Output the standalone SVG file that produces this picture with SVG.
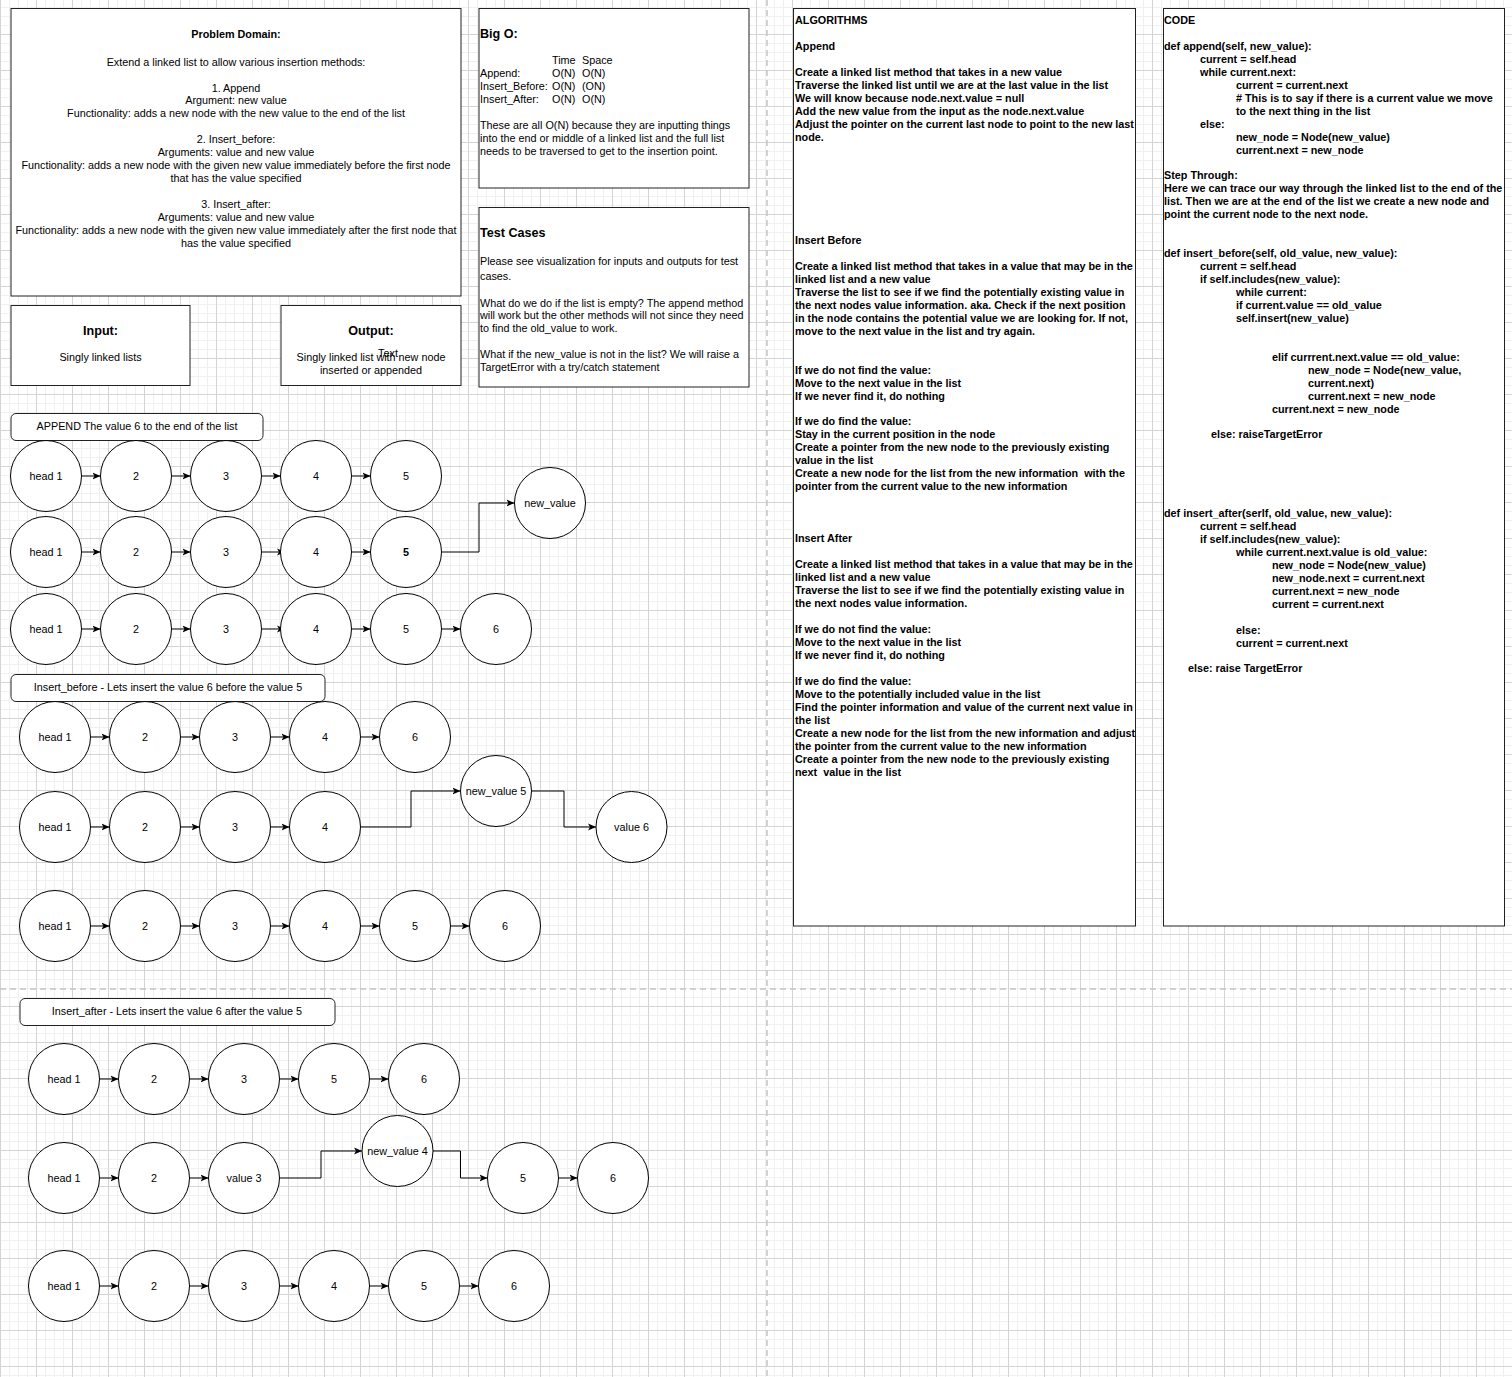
<svg xmlns="http://www.w3.org/2000/svg" width="1512" height="1377" viewBox="0 0 1512 1377">
<defs>
<pattern id="grid" patternUnits="userSpaceOnUse" x="0" y="-2" width="36" height="36">
<path d="M9.5,0V36M18.5,0V36M27.5,0V36M0,9.5H36M0,18.5H36M0,27.5H36" stroke="#f0f0f0" stroke-width="1" fill="none"/>
<path d="M0.5,0V36M0,0.5H36" stroke="#d4d4d4" stroke-width="1" fill="none"/>
</pattern>
<marker id="arr" markerUnits="userSpaceOnUse" markerWidth="8" markerHeight="8" viewBox="0 0 8 8" refX="8" refY="4" orient="auto">
<path d="M0,0.6 L8,4 L0,7.4 L2,4 Z" fill="#000"/>
</marker>
<style>
text{font-family:"Liberation Sans",Arial,Helvetica,sans-serif;font-size:10.8px;fill:#000;white-space:pre}
.b{font-weight:bold}
.h{font-weight:bold;font-size:12.6px}
.c{text-anchor:middle}
.box{fill:#fff;stroke:#222;stroke-width:1}
.lbl{fill:#fff;stroke:#222;stroke-width:1}
.node circle{fill:#fff;stroke:#000;stroke-width:1}
.edge{fill:none;stroke:#000;stroke-width:1;marker-end:url(#arr)}
.pb{stroke:#c4c4c4;stroke-width:1.5;stroke-dasharray:6 4;fill:none}
</style>
</defs>
<rect width="1512" height="1377" fill="#fff"/>
<rect width="1512" height="1377" fill="url(#grid)"/>
<path class="pb" d="M767,0V1377M0,989H1512"/>

<!-- Problem Domain -->
<g id="problem-domain">
<rect class="box" x="11" y="8.5" width="450" height="287.5"/>
<text class="c b" x="236" y="38">Problem Domain:</text>
<text class="c" x="236" y="66">Extend a linked list to allow various insertion methods:</text>
<text class="c" x="236" y="92">1. Append</text>
<text class="c" x="236" y="104">Argument: new value</text>
<text class="c" x="236" y="117">Functionality: adds a new node with the new value to the end of the list</text>
<text class="c" x="236" y="143">2. Insert_before:</text>
<text class="c" x="236" y="156">Arguments: value and new value</text>
<text class="c" x="236" y="169">Functionality: adds a new node with the given new value immediately before the first node</text>
<text class="c" x="236" y="182">that has the value specified</text>
<text class="c" x="236" y="208">3. Insert_after:</text>
<text class="c" x="236" y="221">Arguments: value and new value</text>
<text class="c" x="236" y="234">Functionality: adds a new node with the given new value immediately after the first node that</text>
<text class="c" x="236" y="247">has the value specified</text>
</g>

<!-- Big O -->
<g id="big-o">
<rect class="box" x="479" y="8.5" width="270" height="179.5"/>
<text class="h" x="480" y="38">Big O:</text>
<text x="552" y="64">Time</text><text x="582" y="64">Space</text>
<text x="480" y="77">Append:</text><text x="552" y="77">O(N)</text><text x="582" y="77">O(N)</text>
<text x="480" y="90">Insert_Before:</text><text x="552" y="90">O(N)</text><text x="582" y="90">(ON)</text>
<text x="480" y="103">Insert_After:</text><text x="552" y="103">O(N)</text><text x="582" y="103">O(N)</text>
<text x="480" y="129">These are all O(N) because they are inputting things</text>
<text x="480" y="142">into the end or middle of a linked list and the full list</text>
<text x="480" y="155">needs to be traversed to get to the insertion point.</text>
</g>

<!-- Test Cases -->
<g id="test-cases">
<rect class="box" x="479" y="207.5" width="270" height="179.5"/>
<text class="h" x="480" y="237">Test Cases</text>
<text x="480" y="265">Please see visualization for inputs and outputs for test</text>
<text x="480" y="280">cases.</text>
<text x="480" y="307">What do we do if the list is empty? The append method</text>
<text x="480" y="319">will work but the other methods will not since they need</text>
<text x="480" y="332">to find the old_value to work.</text>
<text x="480" y="358">What if the new_value is not in the list? We will raise a</text>
<text x="480" y="371">TargetError with a try/catch statement</text>
</g>

<!-- Input / Output -->
<g id="input">
<rect class="box" x="11" y="305.5" width="179" height="80"/>
<text class="h c" x="100.5" y="335">Input:</text>
<text class="c" x="100.5" y="361">Singly linked lists</text>
</g>
<g id="output">
<rect class="box" x="281" y="305.5" width="180" height="80"/>
<text class="h c" x="371" y="335">Output:</text>
<text class="c" x="371" y="361">Singly linked list with new node</text>
<text class="c" x="371" y="374">inserted or appended</text>
<text class="c" x="388" y="357">Text</text>
</g>

<!-- Algorithms -->
<g id="algorithms">
<rect class="box" x="793.5" y="8.5" width="342" height="917.5"/>
<g class="b">
<text x="795" y="24">ALGORITHMS</text>
<text x="795" y="50">Append</text>
<text x="795" y="76">Create a linked list method that takes in a new value</text>
<text x="795" y="89">Traverse the linked list until we are at the last value in the list</text>
<text x="795" y="102">We will know because node.next.value = null</text>
<text x="795" y="115">Add the new value from the input as the node.next.value</text>
<text x="795" y="128">Adjust the pointer on the current last node to point to the new last</text>
<text x="795" y="141">node.</text>
<text x="795" y="244">Insert Before</text>
<text x="795" y="270">Create a linked list method that takes in a value that may be in the</text>
<text x="795" y="283">linked list and a new value</text>
<text x="795" y="296">Traverse the list to see if we find the potentially existing value in</text>
<text x="795" y="309">the next nodes value information. aka. Check if the next position</text>
<text x="795" y="322">in the node contains the potential value we are looking for. If not,</text>
<text x="795" y="335">move to the next value in the list and try again.</text>
<text x="795" y="374">If we do not find the value:</text>
<text x="795" y="387">Move to the next value in the list</text>
<text x="795" y="400">If we never find it, do nothing</text>
<text x="795" y="425">If we do find the value:</text>
<text x="795" y="438">Stay in the current position in the node</text>
<text x="795" y="451">Create a pointer from the new node to the previously existing</text>
<text x="795" y="464">value in the list</text>
<text x="795" y="477">Create a new node for the list from the new information  with the</text>
<text x="795" y="490">pointer from the current value to the new information</text>
<text x="795" y="542">Insert After</text>
<text x="795" y="568">Create a linked list method that takes in a value that may be in the</text>
<text x="795" y="581">linked list and a new value</text>
<text x="795" y="594">Traverse the list to see if we find the potentially existing value in</text>
<text x="795" y="607">the next nodes value information.</text>
<text x="795" y="633">If we do not find the value:</text>
<text x="795" y="646">Move to the next value in the list</text>
<text x="795" y="659">If we never find it, do nothing</text>
<text x="795" y="685">If we do find the value:</text>
<text x="795" y="698">Move to the potentially included value in the list</text>
<text x="795" y="711">Find the pointer information and value of the current next value in</text>
<text x="795" y="724">the list</text>
<text x="795" y="737">Create a new node for the list from the new information and adjust</text>
<text x="795" y="750">the pointer from the current value to the new information</text>
<text x="795" y="763">Create a pointer from the new node to the previously existing</text>
<text x="795" y="776">next  value in the list</text>
</g>
</g>

<!-- Code -->
<g id="code">
<rect class="box" x="1163.5" y="8.5" width="341" height="917.5"/>
<g class="b">
<text x="1164" y="24">CODE</text>
<text x="1164" y="50">def append(self, new_value):</text>
<text x="1200" y="63">current = self.head</text>
<text x="1200" y="76">while current.next:</text>
<text x="1236" y="89">current = current.next</text>
<text x="1236" y="102"># This is to say if there is a current value we move</text>
<text x="1236" y="115">to the next thing in the list</text>
<text x="1200" y="128">else:</text>
<text x="1236" y="141">new_node = Node(new_value)</text>
<text x="1236" y="154">current.next = new_node</text>
<text x="1164" y="179">Step Through:</text>
<text x="1164" y="192">Here we can trace our way through the linked list to the end of the</text>
<text x="1164" y="205">list. Then we are at the end of the list we create a new node and</text>
<text x="1164" y="218">point the current node to the next node.</text>
<text x="1164" y="257">def insert_before(self, old_value, new_value):</text>
<text x="1200" y="270">current = self.head</text>
<text x="1200" y="283">if self.includes(new_value):</text>
<text x="1236" y="296">while current:</text>
<text x="1236" y="309">if current.value == old_value</text>
<text x="1236" y="322">self.insert(new_value)</text>
<text x="1272" y="361">elif currrent.next.value == old_value:</text>
<text x="1308" y="374">new_node = Node(new_value,</text>
<text x="1308" y="387">current.next)</text>
<text x="1308" y="400">current.next = new_node</text>
<text x="1272" y="413">current.next = new_node</text>
<text x="1211" y="438">else: raiseTargetError</text>
<text x="1164" y="517">def insert_after(serlf, old_value, new_value):</text>
<text x="1200" y="530">current = self.head</text>
<text x="1200" y="543">if self.includes(new_value):</text>
<text x="1236" y="556">while current.next.value is old_value:</text>
<text x="1272" y="569">new_node = Node(new_value)</text>
<text x="1272" y="582">new_node.next = current.next</text>
<text x="1272" y="595">current.next = new_node</text>
<text x="1272" y="608">current = current.next</text>
<text x="1236" y="634">else:</text>
<text x="1236" y="647">current = current.next</text>
<text x="1188" y="672">else: raise TargetError</text>
</g>
</g>

<!-- Section labels -->
<g id="label-append"><rect class="lbl" x="11" y="413.5" width="252" height="27" rx="5"/><text class="c" x="137" y="430">APPEND The value 6 to the end of the list</text></g>
<g id="label-insert-before"><rect class="lbl" x="11" y="674.5" width="314" height="27" rx="5"/><text class="c" x="168" y="691">Insert_before - Lets insert the value 6 before the value 5</text></g>
<g id="label-insert-after"><rect class="lbl" x="20" y="998.5" width="315" height="27" rx="5"/><text class="c" x="177" y="1015">Insert_after - Lets insert the value 6 after the value 5</text></g>

<!-- Connectors -->
<g id="connectors">
<!-- append row 1 -->
<path class="edge" d="M81.5,476H100.5"/><path class="edge" d="M171.5,476H190.5"/><path class="edge" d="M261.5,476H280.5"/><path class="edge" d="M351.5,476H370.5"/>
<!-- append row 2 -->
<path class="edge" d="M81.5,552H100.5"/><path class="edge" d="M171.5,552H190.5"/><path class="edge" d="M261.5,552H285"/><path class="edge" d="M351.5,552H370.5"/>
<path class="edge" d="M441.5,552H479V503H514.5"/>
<!-- append row 3 -->
<path class="edge" d="M81.5,629H100.5"/><path class="edge" d="M171.5,629H190.5"/><path class="edge" d="M261.5,629H285"/><path class="edge" d="M351.5,629H370.5"/><path class="edge" d="M441.5,629H460.5"/>
<!-- insert before row 1 -->
<path class="edge" d="M90.5,737H109.5"/><path class="edge" d="M180.5,737H199.5"/><path class="edge" d="M270.5,737H289.5"/><path class="edge" d="M360.5,737H379.5"/>
<!-- insert before row 2 -->
<path class="edge" d="M90.5,827H109.5"/><path class="edge" d="M180.5,827H199.5"/><path class="edge" d="M270.5,827H289.5"/>
<path class="edge" d="M360.5,827H411V791H460.5"/>
<path class="edge" d="M531.5,791H564V827H596"/>
<!-- insert before row 3 -->
<path class="edge" d="M90.5,926H109.5"/><path class="edge" d="M180.5,926H199.5"/><path class="edge" d="M270.5,926H289.5"/><path class="edge" d="M360.5,926H379.5"/><path class="edge" d="M450.5,926H469.5"/>
<!-- insert after row 1 -->
<path class="edge" d="M99.5,1079H118.5"/><path class="edge" d="M189.5,1079H208.5"/><path class="edge" d="M279.5,1079H298.5"/><path class="edge" d="M369.5,1079H388.5"/>
<!-- insert after row 2 -->
<path class="edge" d="M99.5,1178H118.5"/><path class="edge" d="M189.5,1178H208.5"/>
<path class="edge" d="M279.5,1178H321V1151H362"/>
<path class="edge" d="M433,1151H460.5V1178H487.5"/>
<path class="edge" d="M558.5,1178H577.5"/>
<!-- insert after row 3 -->
<path class="edge" d="M99.5,1286H118.5"/><path class="edge" d="M189.5,1286H208.5"/><path class="edge" d="M279.5,1286H298.5"/><path class="edge" d="M369.5,1286H388.5"/><path class="edge" d="M459.5,1286H478.5"/>
</g>

<!-- Nodes: append -->
<g id="a1-1" class="node"><circle cx="46" cy="476" r="35.5"/><text class="c" x="46" y="480">head 1</text></g>
<g id="a1-2" class="node"><circle cx="136" cy="476" r="35.5"/><text class="c" x="136" y="480">2</text></g>
<g id="a1-3" class="node"><circle cx="226" cy="476" r="35.5"/><text class="c" x="226" y="480">3</text></g>
<g id="a1-4" class="node"><circle cx="316" cy="476" r="35.5"/><text class="c" x="316" y="480">4</text></g>
<g id="a1-5" class="node"><circle cx="406" cy="476" r="35.5"/><text class="c" x="406" y="480">5</text></g>
<g id="a-new" class="node"><circle cx="550" cy="503" r="35.5"/><text class="c" x="550" y="507">new_value</text></g>
<g id="a2-1" class="node"><circle cx="46" cy="552" r="35.5"/><text class="c" x="46" y="556">head 1</text></g>
<g id="a2-2" class="node"><circle cx="136" cy="552" r="35.5"/><text class="c" x="136" y="556">2</text></g>
<g id="a2-3" class="node"><circle cx="226" cy="552" r="35.5"/><text class="c" x="226" y="556">3</text></g>
<g id="a2-4" class="node"><circle cx="316" cy="552" r="35.5"/><text class="c" x="316" y="556">4</text></g>
<g id="a2-5" class="node"><circle cx="406" cy="552" r="35.5"/><text class="c b" x="406" y="556">5</text></g>
<g id="a3-1" class="node"><circle cx="46" cy="629" r="35.5"/><text class="c" x="46" y="633">head 1</text></g>
<g id="a3-2" class="node"><circle cx="136" cy="629" r="35.5"/><text class="c" x="136" y="633">2</text></g>
<g id="a3-3" class="node"><circle cx="226" cy="629" r="35.5"/><text class="c" x="226" y="633">3</text></g>
<g id="a3-4" class="node"><circle cx="316" cy="629" r="35.5"/><text class="c" x="316" y="633">4</text></g>
<g id="a3-5" class="node"><circle cx="406" cy="629" r="35.5"/><text class="c" x="406" y="633">5</text></g>
<g id="a3-6" class="node"><circle cx="496" cy="629" r="35.5"/><text class="c" x="496" y="633">6</text></g>

<!-- Nodes: insert before -->
<g id="b1-1" class="node"><circle cx="55" cy="737" r="35.5"/><text class="c" x="55" y="741">head 1</text></g>
<g id="b1-2" class="node"><circle cx="145" cy="737" r="35.5"/><text class="c" x="145" y="741">2</text></g>
<g id="b1-3" class="node"><circle cx="235" cy="737" r="35.5"/><text class="c" x="235" y="741">3</text></g>
<g id="b1-4" class="node"><circle cx="325" cy="737" r="35.5"/><text class="c" x="325" y="741">4</text></g>
<g id="b1-6" class="node"><circle cx="415" cy="737" r="35.5"/><text class="c" x="415" y="741">6</text></g>
<g id="b2-1" class="node"><circle cx="55" cy="827" r="35.5"/><text class="c" x="55" y="831">head 1</text></g>
<g id="b2-2" class="node"><circle cx="145" cy="827" r="35.5"/><text class="c" x="145" y="831">2</text></g>
<g id="b2-3" class="node"><circle cx="235" cy="827" r="35.5"/><text class="c" x="235" y="831">3</text></g>
<g id="b2-4" class="node"><circle cx="325" cy="827" r="35.5"/><text class="c" x="325" y="831">4</text></g>
<g id="b2-new" class="node"><circle cx="496" cy="791" r="35.5"/><text class="c" x="496" y="795">new_value 5</text></g>
<g id="b2-v6" class="node"><circle cx="631.5" cy="827" r="35.5"/><text class="c" x="631.5" y="831">value 6</text></g>
<g id="b3-1" class="node"><circle cx="55" cy="926" r="35.5"/><text class="c" x="55" y="930">head 1</text></g>
<g id="b3-2" class="node"><circle cx="145" cy="926" r="35.5"/><text class="c" x="145" y="930">2</text></g>
<g id="b3-3" class="node"><circle cx="235" cy="926" r="35.5"/><text class="c" x="235" y="930">3</text></g>
<g id="b3-4" class="node"><circle cx="325" cy="926" r="35.5"/><text class="c" x="325" y="930">4</text></g>
<g id="b3-5" class="node"><circle cx="415" cy="926" r="35.5"/><text class="c" x="415" y="930">5</text></g>
<g id="b3-6" class="node"><circle cx="505" cy="926" r="35.5"/><text class="c" x="505" y="930">6</text></g>

<!-- Nodes: insert after -->
<g id="c1-1" class="node"><circle cx="64" cy="1079" r="35.5"/><text class="c" x="64" y="1083">head 1</text></g>
<g id="c1-2" class="node"><circle cx="154" cy="1079" r="35.5"/><text class="c" x="154" y="1083">2</text></g>
<g id="c1-3" class="node"><circle cx="244" cy="1079" r="35.5"/><text class="c" x="244" y="1083">3</text></g>
<g id="c1-5" class="node"><circle cx="334" cy="1079" r="35.5"/><text class="c" x="334" y="1083">5</text></g>
<g id="c1-6" class="node"><circle cx="424" cy="1079" r="35.5"/><text class="c" x="424" y="1083">6</text></g>
<g id="c2-1" class="node"><circle cx="64" cy="1178" r="35.5"/><text class="c" x="64" y="1182">head 1</text></g>
<g id="c2-2" class="node"><circle cx="154" cy="1178" r="35.5"/><text class="c" x="154" y="1182">2</text></g>
<g id="c2-3" class="node"><circle cx="244" cy="1178" r="35.5"/><text class="c" x="244" y="1182">value 3</text></g>
<g id="c2-new" class="node"><circle cx="397.5" cy="1151" r="35.5"/><text class="c" x="397.5" y="1155">new_value 4</text></g>
<g id="c2-5" class="node"><circle cx="523" cy="1178" r="35.5"/><text class="c" x="523" y="1182">5</text></g>
<g id="c2-6" class="node"><circle cx="613" cy="1178" r="35.5"/><text class="c" x="613" y="1182">6</text></g>
<g id="c3-1" class="node"><circle cx="64" cy="1286" r="35.5"/><text class="c" x="64" y="1290">head 1</text></g>
<g id="c3-2" class="node"><circle cx="154" cy="1286" r="35.5"/><text class="c" x="154" y="1290">2</text></g>
<g id="c3-3" class="node"><circle cx="244" cy="1286" r="35.5"/><text class="c" x="244" y="1290">3</text></g>
<g id="c3-4" class="node"><circle cx="334" cy="1286" r="35.5"/><text class="c" x="334" y="1290">4</text></g>
<g id="c3-5" class="node"><circle cx="424" cy="1286" r="35.5"/><text class="c" x="424" y="1290">5</text></g>
<g id="c3-6" class="node"><circle cx="514" cy="1286" r="35.5"/><text class="c" x="514" y="1290">6</text></g>
</svg>
